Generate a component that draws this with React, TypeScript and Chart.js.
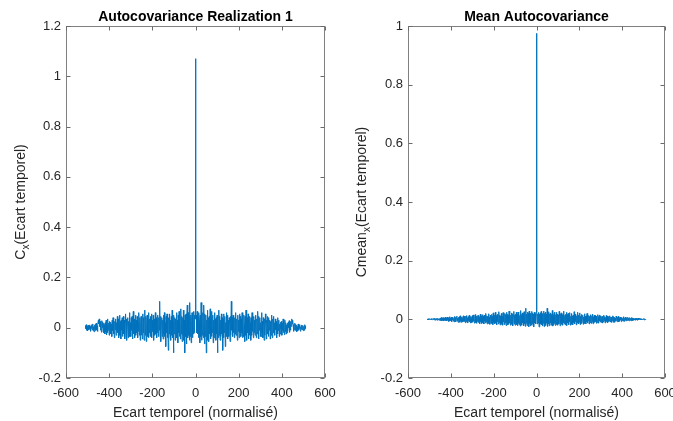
import { useEffect, useRef } from "react";
import { Chart, registerables } from "chart.js";

Chart.register(...registerables);

// ---------- Data ----------
// Lag step between plotted samples
const LAG_STEP = 2;

// Left plot: autocovariance of realization 1, negative lags (-510 .. -2)
const realNegLags = [
  0.008, -0.004, 0.012, -0.01, 0.005, -0.012, 0.009, 0.002, -0.008, 0.011, -0.006, 0.004, -0.014, 0.007, -0.003,
  0.012, -0.009, 0.015, -0.012, 0.004, -0.016, 0.01, -0.005, 0.014, -0.011, 0.018, -0.008, 0.006, -0.015, 0.013,
  0.03, 0.015, 0.035, 0.005, 0.025, -0.01, 0.02, -0.018, 0.028, 0.0, 0.022, -0.012, 0.018, -0.02, 0.012,
  -0.025, 0.02, -0.015, 0.03, -0.028, 0.012, -0.02, 0.035, -0.01, 0.018, -0.03, 0.025, -0.005, 0.022, -0.025,
  0.015, -0.035, 0.03, -0.012, 0.04, -0.025, 0.018, -0.04, 0.025, -0.008, 0.035, -0.03, 0.02, -0.015, 0.045,
  -0.02, 0.035, -0.04, 0.01, 0.05, -0.03, 0.025, -0.045, 0.03, -0.01, 0.04, -0.035, 0.015, 0.045, -0.025,
  0.03, -0.045, 0.02, 0.055, -0.03, 0.035, -0.05, 0.015, 0.04, -0.04, 0.025, -0.02, 0.06, -0.035, 0.02,
  -0.035, 0.04, -0.01, 0.045, -0.045, 0.025, 0.065, -0.025, 0.035, -0.04, 0.015, 0.05, -0.03, 0.03, -0.02,
  0.045, -0.04, 0.025, -0.015, 0.06, -0.03, 0.04, -0.05, 0.02, 0.045, -0.03, 0.035, -0.045, 0.055, -0.02,
  0.04, -0.05, 0.03, 0.07, -0.03, 0.045, -0.055, 0.015, 0.05, -0.035, 0.03, -0.04, 0.06, -0.02, 0.035,
  -0.035, 0.045, -0.02, 0.055, -0.04, 0.03, -0.015, 0.05, -0.05, 0.035, 0.01, -0.03, 0.06, -0.025, 0.04,
  -0.04, 0.035, -0.02, 0.05, -0.035, 0.04, -0.01, 0.105, -0.03, 0.045, -0.055, 0.025, 0.04, -0.035, 0.03,
  -0.045, 0.05, -0.025, 0.06, -0.035, 0.02, -0.075, 0.045, -0.02, 0.055, -0.04, 0.035, -0.09, 0.04, -0.025,
  0.055, -0.035, 0.03, -0.05, 0.045, -0.03, 0.07, -0.04, 0.025, -0.1, 0.05, -0.025, 0.04, -0.05, 0.035,
  -0.03, 0.06, -0.04, 0.03, -0.06, 0.05, -0.02, 0.065, -0.035, 0.04, -0.045, 0.075, -0.025, 0.045, -0.055,
  0.04, -0.03, 0.07, -0.05, 0.03, -0.1, 0.05, -0.035, 0.055, -0.065, 0.035, 0.09, -0.04, 0.06, -0.03,
  0.045, -0.05, 0.1, -0.035, 0.05, -0.06, 0.03, 0.06, -0.04, 0.045, -0.025, 0.065, -0.02, 0.05, 0.035,
];
const realZeroLag = 1.07;
// positive lags (2 .. 510)
const realPosLags = [
  0.035, 0.05, -0.02, 0.065, -0.025, 0.045, -0.04, 0.06, 0.03, -0.06, 0.05, -0.035, 0.1, -0.05, 0.045,
  -0.03, 0.06, -0.04, 0.09, 0.035, -0.065, 0.055, -0.035, 0.05, -0.1, 0.03, -0.05, 0.07, -0.03, 0.04,
  -0.055, 0.045, -0.025, 0.075, -0.045, 0.04, -0.035, 0.065, -0.02, 0.05, -0.06, 0.03, -0.04, 0.06, -0.03,
  0.035, -0.05, 0.04, -0.025, 0.05, -0.1, 0.025, -0.04, 0.07, -0.03, 0.045, -0.05, 0.03, -0.035, 0.055,
  -0.025, 0.04, -0.09, 0.035, -0.04, 0.055, -0.02, 0.045, -0.075, 0.02, -0.035, 0.06, -0.025, 0.05, -0.045,
  0.03, -0.035, 0.04, 0.025, -0.055, 0.045, -0.03, 0.105, -0.01, 0.04, -0.035, 0.05, -0.02, 0.035, -0.04,
  0.04, -0.025, 0.06, -0.03, 0.01, 0.035, -0.05, 0.05, -0.015, 0.03, -0.04, 0.055, -0.02, 0.045, -0.035,
  0.035, -0.02, 0.06, -0.04, 0.03, -0.035, 0.05, 0.015, -0.055, 0.045, -0.03, 0.07, 0.03, -0.05, 0.04,
  -0.02, 0.055, -0.045, 0.035, -0.03, 0.045, 0.02, -0.05, 0.04, -0.03, 0.06, -0.015, 0.025, -0.04, 0.045,
  -0.02, 0.03, -0.03, 0.05, 0.015, -0.04, 0.035, -0.025, 0.065, 0.025, -0.045, 0.045, -0.01, 0.04, -0.035,
  0.02, -0.035, 0.06, -0.02, 0.025, -0.04, 0.04, 0.015, -0.05, 0.035, -0.03, 0.055, 0.02, -0.045, 0.03,
  -0.025, 0.045, 0.015, -0.035, 0.04, -0.01, 0.03, -0.045, 0.025, -0.03, 0.05, 0.01, -0.04, 0.035, -0.02,
  0.045, -0.015, 0.02, -0.03, 0.035, -0.008, 0.025, -0.04, 0.018, -0.025, 0.04, -0.012, 0.03, -0.035, 0.015,
  -0.025, 0.022, -0.005, 0.025, -0.03, 0.018, -0.01, 0.035, -0.02, 0.012, -0.028, 0.03, -0.015, 0.02, -0.025,
  0.012, -0.02, 0.018, -0.012, 0.022, 0.0, 0.028, -0.018, 0.02, -0.01, 0.025, 0.005, 0.035, 0.015, 0.03,
  0.013, -0.015, 0.006, -0.008, 0.018, -0.011, 0.014, -0.005, 0.01, -0.016, 0.004, -0.012, 0.015, -0.009, 0.012,
  -0.003, 0.007, -0.014, 0.004, -0.006, 0.011, -0.008, 0.002, 0.009, -0.012, 0.005, -0.01, 0.012, -0.004, 0.008,
];

// Right plot: mean autocovariance, negative lags (-510 .. -2)
const meanNegLags = [
  0.001, -0.001, 0.002, 0.0, -0.002, 0.001, 0.002, -0.001, 0.0, 0.002, -0.002, 0.001, -0.001, 0.002, 0.0,
  0.003, -0.002, 0.001, 0.004, -0.003, 0.002, -0.001, 0.003, -0.003, 0.002, 0.004, -0.002, 0.001, -0.003, 0.003,
  -0.004, 0.005, -0.002, 0.006, -0.005, 0.003, -0.003, 0.006, 0.0, -0.005, 0.004, -0.003, 0.007, -0.004, 0.002,
  0.006, -0.005, 0.008, -0.003, 0.005, -0.007, 0.004, 0.009, -0.006, 0.003, -0.004, 0.007, -0.008, 0.005, -0.002,
  0.008, -0.006, 0.003, -0.009, 0.01, -0.004, 0.007, -0.008, 0.005, 0.011, -0.006, 0.004, -0.01, 0.007, -0.003,
  0.009, -0.01, 0.012, -0.005, 0.007, -0.011, 0.008, 0.003, -0.009, 0.012, -0.006, 0.01, -0.008, 0.005, -0.012,
  0.011, -0.007, 0.013, -0.01, 0.006, -0.012, 0.009, -0.004, 0.014, -0.009, 0.007, -0.013, 0.01, 0.004, -0.011,
  0.012, -0.009, 0.015, -0.006, 0.01, -0.013, 0.008, 0.016, -0.011, 0.006, -0.014, 0.011, -0.007, 0.013, -0.01,
  0.014, -0.012, 0.009, -0.015, 0.018, -0.008, 0.012, -0.014, 0.007, 0.016, -0.011, 0.01, -0.016, 0.013, -0.006,
  0.015, -0.013, 0.02, -0.009, 0.012, -0.016, 0.01, -0.011, 0.019, -0.014, 0.008, -0.017, 0.014, 0.005, -0.012,
  0.017, -0.014, 0.011, -0.018, 0.022, -0.01, 0.014, -0.016, 0.009, 0.024, -0.013, 0.012, -0.019, 0.015, -0.008,
  0.018, -0.016, 0.026, -0.011, 0.014, -0.019, 0.012, -0.014, 0.02, -0.017, 0.01, -0.02, 0.023, -0.009, 0.015,
  -0.018, 0.02, -0.012, 0.016, -0.021, 0.024, -0.01, 0.017, -0.019, 0.013, -0.015, 0.028, -0.012, 0.018, -0.02,
  0.014, -0.017, 0.022, -0.013, 0.019, -0.022, 0.012, 0.027, -0.016, 0.015, -0.02, 0.018, -0.011, 0.024, -0.018,
  0.016, -0.021, 0.025, -0.014, 0.02, -0.018, 0.013, -0.023, 0.03, -0.015, 0.017, -0.02, 0.022, -0.012, 0.019,
  -0.022, 0.026, -0.016, 0.021, -0.024, 0.038, -0.013, 0.018, -0.021, 0.025, -0.017, 0.02, -0.025, 0.028, -0.014,
  0.02, -0.023, 0.016, -0.019, 0.027, -0.015, 0.022, -0.02, 0.018, -0.026, 0.024, -0.012, 0.019, -0.016, 0.025,
];
const meanZeroLag = 0.975;
// positive lags (2 .. 510)
const meanPosLags = [
  0.025, -0.016, 0.019, -0.012, 0.024, -0.026, 0.018, -0.02, 0.022, -0.015, 0.027, -0.019, 0.016, -0.023, 0.02,
  -0.014, 0.028, -0.025, 0.02, -0.017, 0.025, -0.021, 0.018, -0.013, 0.038, -0.024, 0.021, -0.016, 0.026, -0.022,
  0.019, -0.012, 0.022, -0.02, 0.017, -0.015, 0.03, -0.023, 0.013, -0.018, 0.02, -0.014, 0.025, -0.021, 0.016,
  -0.018, 0.024, -0.011, 0.018, -0.02, 0.015, -0.016, 0.027, 0.012, -0.022, 0.019, -0.013, 0.022, -0.017, 0.014,
  -0.02, 0.018, -0.012, 0.028, -0.015, 0.013, -0.019, 0.017, -0.01, 0.024, -0.021, 0.016, -0.012, 0.02, -0.018,
  0.015, -0.009, 0.023, -0.02, 0.01, -0.017, 0.02, -0.014, 0.012, -0.019, 0.014, -0.011, 0.026, -0.016, 0.018,
  -0.008, 0.015, -0.019, 0.012, -0.013, 0.024, 0.009, -0.016, 0.014, -0.01, 0.022, -0.018, 0.011, -0.014, 0.017,
  -0.012, 0.005, 0.014, -0.017, 0.008, -0.014, 0.019, -0.011, 0.01, -0.016, 0.012, -0.009, 0.02, -0.013, 0.015,
  -0.006, 0.013, -0.016, 0.01, -0.011, 0.016, 0.007, -0.014, 0.012, -0.008, 0.018, -0.015, 0.009, -0.012, 0.014,
  -0.01, 0.013, -0.007, 0.011, -0.014, 0.006, -0.011, 0.016, 0.008, -0.013, 0.01, -0.006, 0.015, -0.009, 0.012,
  -0.011, 0.004, 0.01, -0.013, 0.007, -0.009, 0.014, -0.004, 0.009, -0.012, 0.006, -0.01, 0.013, -0.007, 0.011,
  -0.012, 0.005, -0.008, 0.01, -0.006, 0.012, -0.009, 0.003, 0.008, -0.011, 0.007, -0.005, 0.012, -0.01, 0.009,
  -0.003, 0.007, -0.01, 0.004, -0.006, 0.011, 0.005, -0.008, 0.007, -0.004, 0.01, -0.009, 0.003, -0.006, 0.008,
  -0.002, 0.005, -0.008, 0.007, -0.004, 0.003, -0.006, 0.009, 0.004, -0.007, 0.005, -0.003, 0.008, -0.005, 0.006,
  0.002, -0.004, 0.007, -0.003, 0.004, -0.005, 0.0, 0.006, -0.003, 0.003, -0.005, 0.006, -0.002, 0.005, -0.004,
  0.003, -0.003, 0.001, -0.002, 0.004, 0.002, -0.003, 0.003, -0.001, 0.002, -0.003, 0.004, 0.001, -0.002, 0.003,
  0.0, 0.002, -0.001, 0.001, -0.002, 0.002, 0.0, -0.001, 0.002, 0.001, -0.002, 0.0, 0.002, -0.001, 0.001,
];

const xTickMin = -600;
const xTickMax = 600;
const xTickStep = 200;
const leftYMin = -0.2;
const leftYMax = 1.2;
const rightYMin = -0.2;
const rightYMax = 1;
const yTickStep = 0.2;

const leftTitle = "Autocovariance Realization 1";
const rightTitle = "Mean Autocovariance";
const xLabel = "Ecart temporel (normalisé)";
const leftYLabel = ["C", "x", "(Ecart temporel)"];
const rightYLabel = ["Cmean", "x", "(Ecart temporel)"];

// ---------- helpers ----------
const FONT = '"Liberation Sans", Arial, Helvetica, sans-serif';
const TEXT = "#262626";
const LINE = "#0072BD";

function buildPoints(neg: number[], zero: number, pos: number[]) {
  const pts: { x: number; y: number }[] = [];
  neg.forEach((v, i) => pts.push({ x: -(neg.length - i) * LAG_STEP, y: v }));
  pts.push({ x: 0, y: zero });
  pos.forEach((v, i) => pts.push({ x: (i + 1) * LAG_STEP, y: v }));
  return pts;
}

function decorPlugin(title: string, ylab: string[], ylabX: number) {
  return {
    id: "matlabDecor",
    afterDraw(chart: any) {
      const { ctx, chartArea: a, scales } = chart;
      const xs = scales.x;
      const ys = scales.y;
      ctx.save();
      const L = Math.round(a.left) + 0.5;
      const R = Math.round(a.right) - 0.5;
      const T = Math.round(a.top) + 0.5;
      const B = Math.round(a.bottom) - 0.5;
      ctx.strokeStyle = "#808080";
      ctx.lineWidth = 1;
      ctx.strokeRect(L, T, R - L, B - T);
      const tl = 4;
      ctx.strokeStyle = "#6a6a6a";
      ctx.beginPath();
      xs.ticks.forEach((t: any) => {
        const px = Math.round(xs.getPixelForValue(t.value)) + 0.5;
        ctx.moveTo(px, B);
        ctx.lineTo(px, B - tl);
        ctx.moveTo(px, T);
        ctx.lineTo(px, T + tl);
      });
      ys.ticks.forEach((t: any) => {
        const py = Math.round(ys.getPixelForValue(t.value)) + 0.5;
        ctx.moveTo(L, py);
        ctx.lineTo(L + tl, py);
        ctx.moveTo(R, py);
        ctx.lineTo(R - tl, py);
      });
      ctx.stroke();

      const cx = (a.left + a.right) / 2;
      // title
      ctx.fillStyle = "#000";
      ctx.font = `bold 14px ${FONT}`;
      ctx.textAlign = "center";
      ctx.textBaseline = "middle";
      ctx.fillText(title, cx, 17);
      // x label
      ctx.fillStyle = TEXT;
      ctx.font = `14px ${FONT}`;
      ctx.fillText(xLabel, cx, 413);
      // y label with subscript
      const cy = (a.top + a.bottom) / 2;
      ctx.translate(ylabX, cy);
      ctx.rotate(-Math.PI / 2);
      ctx.textAlign = "left";
      ctx.textBaseline = "alphabetic";
      const mainFont = `14px ${FONT}`;
      const subFont = `10px ${FONT}`;
      ctx.font = mainFont;
      const w0 = ctx.measureText(ylab[0]).width;
      const w2 = ctx.measureText(ylab[2]).width;
      ctx.font = subFont;
      const w1 = ctx.measureText(ylab[1]).width;
      let sx = -(w0 + w1 + w2) / 2;
      ctx.font = mainFont;
      ctx.fillText(ylab[0], sx, 5);
      sx += w0;
      ctx.font = subFont;
      ctx.fillText(ylab[1], sx, 9);
      sx += w1;
      ctx.font = mainFont;
      ctx.fillText(ylab[2], sx, 5);
      ctx.restore();
    },
  };
}

function makeConfig(
  points: { x: number; y: number }[],
  yMin: number,
  yMax: number,
  yAxisWidth: number,
  padRight: number,
  title: string,
  ylab: string[],
  ylabX: number
): any {
  return {
    type: "line",
    data: {
      datasets: [
        {
          data: points,
          borderColor: LINE,
          backgroundColor: LINE,
          borderWidth: 1,
          pointRadius: 0,
          tension: 0,
          fill: false,
        },
      ],
    },
    options: {
      animation: false,
      responsive: false,
      events: [],
      layout: { padding: { left: 0, top: 26, right: padRight, bottom: 0 } },
      plugins: { legend: { display: false }, tooltip: { enabled: false }, title: { display: false } },
      scales: {
        x: {
          type: "linear",
          min: xTickMin,
          max: xTickMax,
          grid: { display: false, drawTicks: false },
          border: { display: false },
          ticks: {
            stepSize: xTickStep,
            padding: 8,
            color: TEXT,
            font: { family: FONT, size: 13 },
            maxRotation: 0,
            autoSkip: false,
          },
          afterFit: (s: any) => {
            s.height = 43;
            s.paddingLeft = 0;
            s.paddingRight = 0;
          },
        },
        y: {
          type: "linear",
          min: yMin,
          max: yMax,
          grid: { display: false, drawTicks: false },
          border: { display: false },
          ticks: {
            stepSize: yTickStep,
            padding: 5,
            color: TEXT,
            font: { family: FONT, size: 13 },
            autoSkip: false,
            callback: (v: number) => String(Math.round(v * 10) / 10 || 0),
          },
          afterFit: (s: any) => {
            s.width = yAxisWidth;
            s.paddingTop = 0;
            s.paddingBottom = 0;
          },
        },
      },
    },
    plugins: [decorPlugin(title, ylab, ylabX)],
  };
}

export default function App() {
  const leftRef = useRef<HTMLCanvasElement>(null);
  const rightRef = useRef<HTMLCanvasElement>(null);

  useEffect(() => {
    const c1 = new Chart(
      leftRef.current!,
      makeConfig(
        buildPoints(realNegLags, realZeroLag, realPosLags),
        leftYMin,
        leftYMax,
        66,
        15,
        leftTitle,
        leftYLabel,
        20
      )
    );
    const c2 = new Chart(
      rightRef.current!,
      makeConfig(
        buildPoints(meanNegLags, meanZeroLag, meanPosLags),
        rightYMin,
        rightYMax,
        68,
        8,
        rightTitle,
        rightYLabel,
        21
      )
    );
    return () => {
      c1.destroy();
      c2.destroy();
    };
  }, []);

  return (
    <div
      style={{
        position: "fixed",
        left: 0,
        top: 0,
        width: 673,
        height: 421,
        background: "#fff",
        overflow: "hidden",
      }}
    >
      <canvas
        ref={leftRef}
        width={340}
        height={421}
        style={{ position: "absolute", left: 0, top: 0, width: 340, height: 421 }}
      />
      <canvas
        ref={rightRef}
        width={333}
        height={421}
        style={{ position: "absolute", left: 340, top: 0, width: 333, height: 421 }}
      />
    </div>
  );
}
